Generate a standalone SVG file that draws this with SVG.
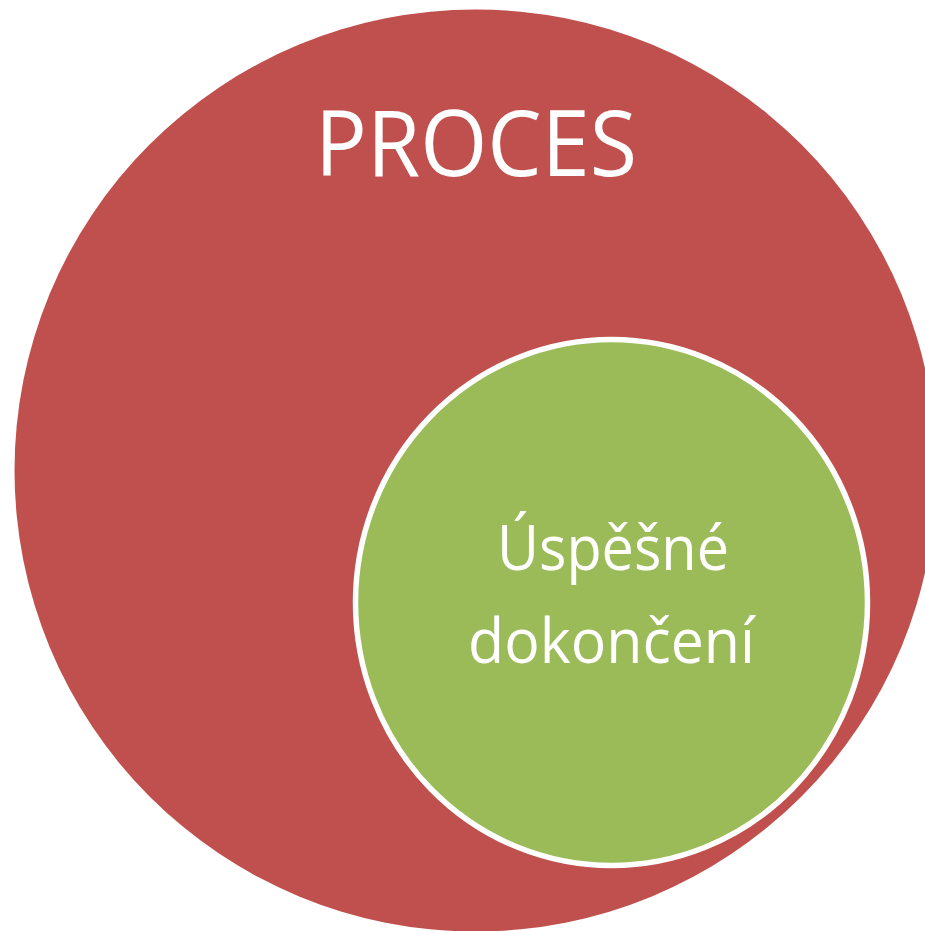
<svg xmlns="http://www.w3.org/2000/svg" width="925" height="931" viewBox="0 0 925 931">
<style>
.lbl{font-family:"Open Sans","Noto Sans","DejaVu Sans",sans-serif;fill:#FFFFFF;text-anchor:middle}
</style>
<rect width="925" height="931" fill="#FFFFFF"/>
<g id="proces">
<circle cx="475.5" cy="470.5" r="461" fill="#C0504D"/>
<text class="lbl" x="476" y="176" font-size="92" textLength="322" lengthAdjust="spacingAndGlyphs">PROCES</text>
</g>
<g id="uspesne-dokonceni">
<ellipse cx="611.5" cy="602.5" rx="256" ry="263" fill="#9BBB59" stroke="#FFFFFF" stroke-width="5.5"/>
<text class="lbl" x="613" y="570" font-size="62" textLength="232" lengthAdjust="spacingAndGlyphs">Úspěšné</text>
<text class="lbl" x="611.5" y="663" font-size="62" textLength="287" lengthAdjust="spacingAndGlyphs">dokončení</text>
</g>
<g id="connectors"/>
</svg>
